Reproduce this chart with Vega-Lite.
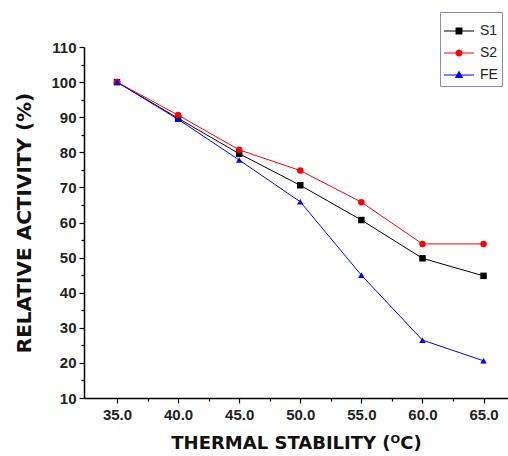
{
  "$schema": "https://vega.github.io/schema/vega-lite/v6.json",
  "autosize": {"type": "none"},
  "padding": {"left": 84, "top": 47, "right": 0, "bottom": 58},
  "width": 424,
  "height": 351,
  "background": "white",
  "config": {
    "view": {"stroke": null},
    "font": "Liberation Sans",
    "axis": {"labelFont": "Liberation Sans", "titleFont": "DejaVu Sans", "labelFontWeight": "bold", "titleFontWeight": "bold", "labelColor": "#222", "titleColor": "#111", "domainColor": "#000", "tickColor": "#000", "grid": false, "labelOverlap": false}
  },
  "data": {
    "values": [
      {"t": 35, "v": 100, "s": "S1"},
      {"t": 40, "v": 89.7, "s": "S1"},
      {"t": 45, "v": 79.6, "s": "S1"},
      {"t": 50, "v": 70.6, "s": "S1"},
      {"t": 55, "v": 60.7, "s": "S1"},
      {"t": 60, "v": 49.8, "s": "S1"},
      {"t": 65, "v": 44.8, "s": "S1"},
      {"t": 35, "v": 100, "s": "S2"},
      {"t": 40, "v": 90.6, "s": "S2"},
      {"t": 45, "v": 80.7, "s": "S2"},
      {"t": 50, "v": 74.8, "s": "S2"},
      {"t": 55, "v": 65.8, "s": "S2"},
      {"t": 60, "v": 53.9, "s": "S2"},
      {"t": 65, "v": 53.9, "s": "S2"},
      {"t": 35, "v": 100, "s": "FE"},
      {"t": 40, "v": 89.4, "s": "FE"},
      {"t": 45, "v": 77.8, "s": "FE"},
      {"t": 50, "v": 65.9, "s": "FE"},
      {"t": 55, "v": 45.0, "s": "FE"},
      {"t": 60, "v": 26.5, "s": "FE"},
      {"t": 65, "v": 20.6, "s": "FE"}
    ]
  },
  "resolve": {"scale": {"shape": "independent"}, "legend": {"color": "independent", "shape": "independent"}},
  "layer": [
    {
      "mark": {"type": "line", "strokeWidth": 1},
      "encoding": {
        "x": {"field": "t", "type": "quantitative", "scale": {"domain": [32.3, 67], "nice": false, "zero": false},
          "axis": {"orient": "bottom", "tickCount": 100, "values": [35, 37.5, 40, 42.5, 45, 47.5, 50, 52.5, 55, 57.5, 60, 62.5, 65], "labelExpr": "datum.value % 5 === 0 ? datum.label : ''", "labelOverlap": false, "title": "THERMAL STABILITY (ᴼC)", "labelFontSize": 15, "titleFontSize": 18, "tickSize": {"condition": {"test": "datum.value % 5 === 0", "value": 5}, "value": 3}, "labelPadding": 4, "titlePadding": 12, "domainWidth": 1.5, "tickWidth": 1.2, "labelFlush": false}},
        "y": {"field": "v", "type": "quantitative", "scale": {"domain": [10, 110], "nice": false, "zero": false},
          "axis": {"orient": "left", "tickCount": 100, "values": [10, 15, 20, 25, 30, 35, 40, 45, 50, 55, 60, 65, 70, 75, 80, 85, 90, 95, 100, 105, 110], "labelExpr": "datum.value % 10 === 0 ? datum.label : ''", "labelOverlap": false, "title": "RELATIVE ACTIVITY (%)", "labelFontSize": 15, "titleFontSize": 20, "tickSize": {"condition": {"test": "datum.value % 10 === 0", "value": 5}, "value": 3}, "labelPadding": 3, "titlePadding": 16, "domainWidth": 1.5, "tickWidth": 1.2}},
        "color": {"field": "s", "type": "nominal", "scale": {"domain": ["S1", "S2", "FE"], "range": ["#000000", "#ff0000", "#0000ff"]}, "legend": null}
      }
    },
    {
      "mark": {"type": "point", "filled": true, "opacity": 1},
      "encoding": {
        "x": {"field": "t", "type": "quantitative"},
        "y": {"field": "v", "type": "quantitative"},
        "color": {"field": "s", "type": "nominal", "legend": null},
        "shape": {"field": "s", "type": "nominal", "scale": {"domain": ["S1", "S2", "FE"], "range": ["square", "circle", "triangle-up"]}, "legend": null},
        "size": {"value": 42}
      }
    },
    {
      "mark": {"type": "point", "filled": true, "opacity": 0},
      "encoding": {
        "x": {"field": "t", "type": "quantitative"},
        "y": {"field": "v", "type": "quantitative"},
        "color": {"field": "s", "type": "nominal",
          "legend": {"title": null, "orient": "none", "legendX": 356, "legendY": -35, "strokeColor": "#8888cc", "fillColor": "white", "padding": 4, "labelFontSize": 14, "labelFont": "Liberation Sans", "labelColor": "#222", "symbolSize": 900, "symbolOpacity": 1, "symbolStrokeWidth": 0, "rowPadding": -12, "labelOffset": 6}},
        "shape": {"field": "s", "type": "nominal", "scale": {"domain": ["S1", "S2", "FE"], "range": ["M-1,-0.04H1V0.04H-1Z M-0.23,-0.23H0.23V0.23H-0.23Z", "M-1,-0.04H1V0.04H-1Z M-0.24,0A0.24,0.24 0 1,1 0.24,0A0.24,0.24 0 1,1 -0.24,0Z", "M-1,-0.04H1V0.04H-1Z M0,-0.3L0.28,0.2L-0.28,0.2Z"]},
          "legend": {"title": null, "orient": "none", "legendX": 356, "legendY": -35, "strokeColor": "#8888cc", "fillColor": "white", "padding": 4, "labelFontSize": 14, "labelFont": "Liberation Sans", "labelColor": "#222", "symbolSize": 900, "symbolOpacity": 1, "symbolStrokeWidth": 0, "rowPadding": -12, "labelOffset": 6}}
      }
    }
  ]
}
